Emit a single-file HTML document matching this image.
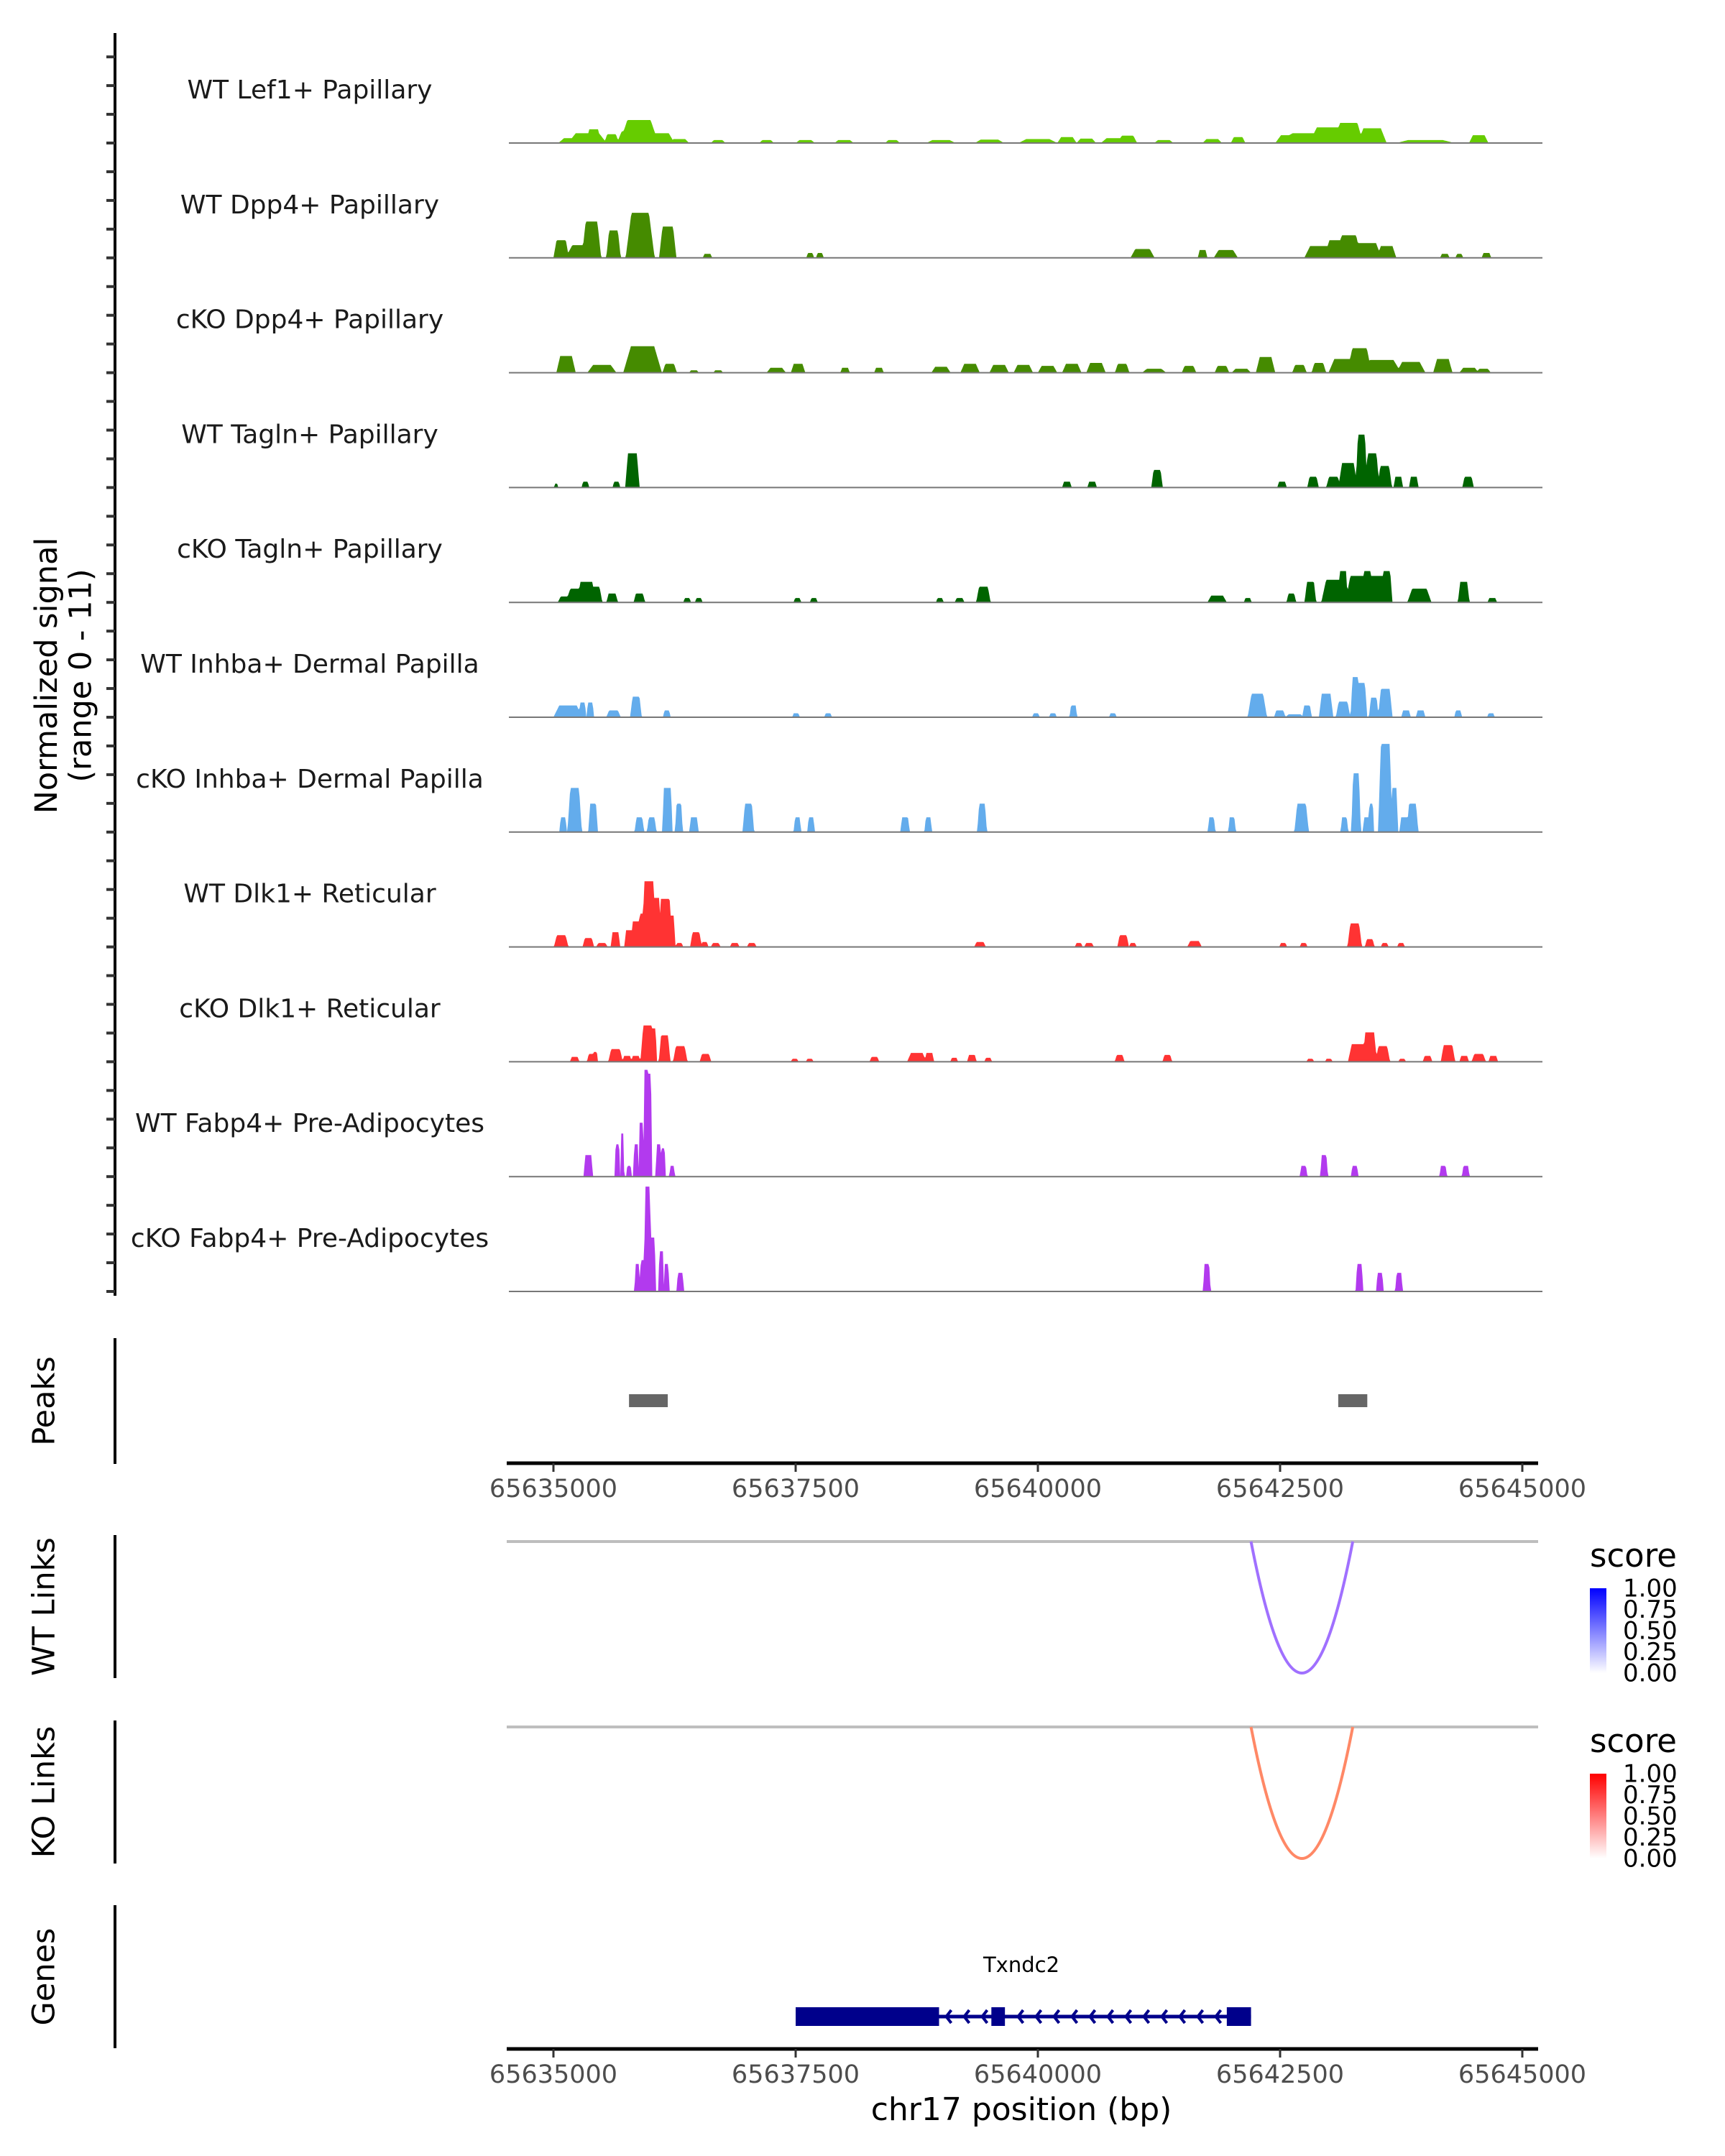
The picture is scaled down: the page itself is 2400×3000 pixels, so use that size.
<!DOCTYPE html>
<html><head><meta charset="utf-8">
<style>
html,body{margin:0;padding:0;background:#fff;}
svg{display:block;font-family:"DejaVu Sans","Liberation Sans",sans-serif;}
</style></head>
<body>
<svg id="chart" width="2400" height="3000" viewBox="0 0 2400 3000" xmlns="http://www.w3.org/2000/svg">
<rect x="0" y="0" width="2400" height="3000" fill="#fff"/>
<g id="tracks"></g>
<g id="left"></g>
<g id="bottom"></g>
</svg>
<script>
// ---------- data ----------
const regionStart = 65635000;
const axisTicks = [65635000, 65637500, 65640000, 65642500, 65645000];
const trackNames = ["WT Lef1+ Papillary","WT Dpp4+ Papillary","cKO Dpp4+ Papillary","WT Tagln+ Papillary","cKO Tagln+ Papillary","WT Inhba+ Dermal Papilla","cKO Inhba+ Dermal Papilla","WT Dlk1+ Reticular","cKO Dlk1+ Reticular","WT Fabp4+ Pre-Adipocytes","cKO Fabp4+ Pre-Adipocytes"];
const trackColors = ["#66cc00","#458b00","#458b00","#006400","#006400","#63acec","#63acec","#ff3333","#ff3333","#b23aee","#b23aee"];
// peaks per track: [offset from regionStart (bp), width (bp), signal]
const lef1WT = [[200,300,0.5],[350,400,1.0],[415,150,1.4],[600,150,0.9],[780,250,1.2],[883,400,2.35],[1100,300,1.0],[1300,200,0.4],[1700,150,0.3],[2200,150,0.3],[2600,200,0.3],[3000,200,0.3],[3500,150,0.3],[4000,300,0.3],[4500,300,0.35],[5000,400,0.4],[5300,200,0.6],[5500,200,0.45],[5800,300,0.5],[5925,200,0.75],[6300,200,0.3],[6800,200,0.4],[7067,150,0.6],[7600,300,0.8],[7900,900,1.0],[8000,400,1.6],[8208,300,2.05],[8450,300,1.5],[9000,600,0.3],[9550,200,0.8]];
const dpp4WT = [[80,160,1.8],[393,200,3.7],[300,350,1.3],[620,150,2.8],[895,300,4.6],[1180,180,3.2],[1590,100,0.4],[2650,80,0.5],[2750,80,0.5],[6080,250,0.9],[6700,100,0.8],[6940,250,0.8],[7900,300,1.2],[8100,300,1.8],[8210,250,2.3],[8400,300,1.5],[8600,200,1.2],[9200,100,0.4],[9350,80,0.4],[9630,100,0.5]];
const dpp4KO = [[130,200,1.7],[500,300,0.8],[920,400,2.7],[1200,150,0.9],[1450,100,0.25],[1700,100,0.25],[2300,200,0.5],[2525,150,0.9],[3010,100,0.5],[3360,100,0.5],[4000,200,0.6],[4300,200,0.9],[4600,200,0.8],[4850,200,0.8],[5100,200,0.7],[5350,200,0.9],[5600,200,1.0],[5870,150,0.9],[6200,250,0.4],[6560,150,0.7],[6900,150,0.7],[7100,200,0.4],[7350,200,1.6],[7700,150,0.8],[7900,150,1.0],[8150,300,1.4],[8320,250,2.5],[8550,400,1.3],[8850,300,1.1],[9180,200,1.4],[9450,200,0.5],[9600,150,0.4]];
const taglnWT = [[27,40,0.4],[330,80,0.6],[650,80,0.6],[815,150,3.5],[5300,100,0.6],[5560,100,0.6],[6230,120,1.8],[7520,100,0.6],[7840,120,1.1],[8050,150,1.1],[8200,200,2.5],[8340,120,5.4],[8450,150,3.5],[8580,150,2.2],[8720,100,1.1],[8880,100,1.1],[9440,120,1.1]];
const taglnKO = [[120,150,0.6],[250,250,1.4],[340,200,2.1],[430,150,1.6],[606,120,0.9],[887,120,0.9],[1380,80,0.45],[1500,80,0.45],[2518,80,0.45],[2687,80,0.45],[3988,80,0.45],[4192,100,0.45],[4438,150,1.6],[6850,200,0.7],[7166,80,0.45],[7616,100,0.9],[7813,120,2.1],[8050,250,2.3],[8150,100,3.2],[8300,250,2.7],[8400,100,3.2],[8500,200,2.7],[8600,120,3.2],[8938,250,1.4],[9395,120,2.1],[9690,100,0.45]];
const inhbaWT = [[150,300,1.2],[300,80,1.5],[380,80,1.5],[620,150,0.7],[852,120,2.1],[1170,80,0.7],[2504,80,0.4],[2835,80,0.4],[4980,80,0.4],[5155,80,0.4],[5366,80,1.2],[5774,80,0.4],[7265,200,2.4],[7497,120,0.7],[7650,200,0.3],[7778,100,1.2],[7975,150,2.4],[8150,150,1.6],[8277,100,4.1],[8340,120,3.5],[8467,100,2.0],[8586,150,2.9],[8800,100,0.7],[8950,100,0.7],[9338,80,0.7],[9676,80,0.4]];
const inhbaKO = [[100,80,1.5],[219,150,4.5],[409,100,2.9],[887,100,1.5],[1014,100,1.5],[1155,60,4.5],[1197,60,4.5],[1295,80,2.9],[1450,100,1.5],[2012,120,2.9],[2518,80,1.5],[2659,80,1.5],[3629,100,1.5],[3868,80,1.5],[4424,100,2.9],[6793,80,1.5],[7004,80,1.5],[7722,150,2.9],[8164,80,1.5],[8284,100,6.0],[8400,100,1.5],[8440,60,2.9],[8586,150,9.0],[8678,80,4.5],[8867,120,2.9],[8780,100,1.5]];
const dlk1WT = [[80,150,1.2],[360,120,0.9],[500,120,0.4],[640,100,1.5],[780,100,1.7],[850,100,2.6],[922,100,3.4],[985,150,6.7],[1063,100,5.0],[1154,150,4.9],[1211,100,3.2],[1300,80,0.4],[1471,120,1.5],[1560,80,0.5],[1675,100,0.4],[1871,100,0.4],[2047,100,0.4],[4403,120,0.5],[5422,80,0.4],[5528,100,0.4],[5880,120,1.2],[5980,80,0.4],[6617,150,0.6],[7532,80,0.4],[7743,80,0.4],[8270,150,2.4],[8425,100,0.8],[8580,80,0.4],[8748,80,0.4]];
const dlk1KO = [[219,100,0.5],[395,100,0.8],[430,60,1.0],[641,150,1.3],[760,100,0.6],[850,100,0.6],[972,150,3.7],[1030,80,3.4],[1147,120,2.7],[1309,150,1.6],[1569,120,0.8],[2490,80,0.3],[2645,80,0.3],[3313,100,0.5],[3750,200,0.9],[3880,100,0.9],[4136,80,0.4],[4319,100,0.7],[4487,80,0.4],[5844,100,0.7],[6336,100,0.7],[7812,80,0.3],[8003,80,0.3],[8300,200,1.8],[8425,150,3.0],[8560,150,1.6],[8760,80,0.3],[9022,100,0.6],[9233,150,1.7],[9400,100,0.6],[9550,150,0.8],[9700,100,0.6]];
const fabp4WT = [[360,100,2.2],[660,60,3.3],[711,40,4.4],[780,60,1.1],[852,60,3.3],[908,60,5.5],[958,60,10.9],[993,50,10.5],[1084,60,3.3],[1130,60,2.9],[1225,60,1.1],[7743,80,1.1],[7954,80,2.2],[8270,80,1.1],[9184,80,1.1],[9416,80,1.1]];
const fabp4KO = [[866,60,2.8],[920,60,3.2],[972,80,10.7],[1028,60,5.5],[1112,60,4.1],[1168,60,2.8],[1309,80,1.9],[6744,80,2.8],[8319,80,2.8],[8530,80,1.9],[8727,80,1.9]];
const trackPeaks = [lef1WT,dpp4WT,dpp4KO,taglnWT,taglnKO,inhbaWT,inhbaKO,dlk1WT,dlk1KO,fabp4WT,fabp4KO];
const peakRegions = [[65635780,65636180],[65643100,65643400]];
const linkStarts = [65642200];
const linkEnds = [65643250];
const wtScores = [0.45];
const koScores = [0.5];
const legendTicks = ["1.00","0.75","0.50","0.25","0.00"];
const geneName = "Txndc2";
const geneStart = 65637500, geneEnd = 65642200;
const exons = [[65637500,65638980],[65639520,65639660],[65641950,65642200]];

// ---------- scales ----------
const NS="http://www.w3.org/2000/svg";
const X0=770, PXPERBP=337/2500;
function xs(bp){return X0+(bp-regionStart)*PXPERBP;}
const firstBase=199, trackGap=159.8, unitPx=150/11;
function ys(v,base){return base - v*unitPx;}
function mk(tag,attrs,parent){const e=document.createElementNS(NS,tag);for(const k in attrs)e.setAttribute(k,attrs[k]);parent.appendChild(e);return e;}

const tracksG=document.getElementById('tracks');
const leftG=document.getElementById('left');
const botG=document.getElementById('bottom');
const XL=708, XR=2146;

// ---------- coverage tracks ----------
trackPeaks.forEach((peaks,i)=>{
  const base=firstBase+i*trackGap;
  const g=mk('g',{},tracksG);
  
  
  const step=10, n=Math.round(10200/step);
  let d='M'+xs(regionStart-450)+','+base;
  for(let k=0;k<=n;k++){
    const off=-450+k*step;
    let v=0;
    peaks.forEach(p=>{
      const dist=Math.abs(off-p[0]), hw=p[1]/2;
      let s=0;
      if(dist<=hw*0.6) s=1; else if(dist<hw) s=1-(dist-hw*0.6)/(hw*0.4);
      v=Math.max(v,p[2]*s);
    });
    d+=' L'+xs(regionStart+off).toFixed(1)+','+ys(v,base).toFixed(1);
  }
  d+=' L'+xs(regionStart+9750)+','+base+' Z';
  const path=mk('path',{d:d,fill:trackColors[i],stroke:'none'},g);
  
  
  const bl=mk('line',{x1:XL,x2:XR,y1:base,y2:base,stroke:'#777','stroke-width':2},g);
  
  
  const t=mk('text',{x:431,y:base-72,'font-size':36,fill:'#1a1a1a','text-anchor':'middle','dominant-baseline':'middle'},g);
  t.textContent=trackNames[i];
  
  
});

// ---------- left axis for tracks ----------
const la=mk('line',{x1:160,x2:160,y1:46,y2:1803,stroke:'#000','stroke-width':4},leftG);


for(let k=0;k<=44;k++){
  const y=firstBase-3*trackGap/4+k*trackGap/4;
  if(y<60||y>1800) continue;
  const tk=mk('line',{x1:148,x2:160,y1:y,y2:y,stroke:'#333','stroke-width':4},leftG);
  
  
}
const yt=mk('text',{transform:'translate(64,940) rotate(-90)','font-size':43,'text-anchor':'middle',fill:'#000'},leftG);


const ts1=mk('tspan',{x:0,dy:'0.35em'},yt); ts1.textContent='Normalized signal';
const ts2=mk('tspan',{x:0,dy:'1.1em'},yt); ts2.textContent='(range 0 - 11)';

function panelLabel(txt,y1,y2,name){
  const l=mk('line',{x1:160,x2:160,y1:y1,y2:y2,stroke:'#000','stroke-width':4},leftG);
  
  
  const t=mk('text',{transform:'translate(64,'+((y1+y2)/2)+') rotate(-90)','font-size':43,'text-anchor':'middle','dominant-baseline':'middle',fill:'#000'},leftG);
  t.textContent=txt;
  
  
}
panelLabel('Peaks',1862,2037,'peaks');
panelLabel('WT Links',2136,2335,'wt-links');
panelLabel('KO Links',2394,2593,'ko-links');
panelLabel('Genes',2651,2850,'genes');

// ---------- peaks ----------
peakRegions.forEach(p=>{
  const r=mk('rect',{x:xs(p[0]),y:1940,width:xs(p[1])-xs(p[0]),height:18,fill:'#666'},botG);
  
  
});

function xAxis(y,name){
  const g=mk('g',{},botG);
  
  
  mk('line',{x1:705,x2:2140,y1:y,y2:y,stroke:'#000','stroke-width':5},g);
  axisTicks.forEach(v=>{
    const tk=mk('line',{x1:xs(v),x2:xs(v),y1:y,y2:y+12,stroke:'#333','stroke-width':3},g);
    
    
    const t=mk('text',{x:xs(v),y:y+47,'font-size':35,fill:'#4d4d4d','text-anchor':'middle'},g);
    t.textContent=v;
    
    
  });
}
xAxis(2036,'peaks-x-axis');
xAxis(2851,'genes-x-axis');
const xt=mk('text',{x:1421,y:2950,'font-size':44,fill:'#000','text-anchor':'middle'},botG);
xt.textContent='chr17 position (bp)';



// ---------- links ----------
function linkPanel(top,scores,color,gradId,topColor,name){
  const g=mk('g',{},botG);
  
  
  mk('line',{x1:705,x2:2140,y1:top,y2:top,stroke:'#bebebe','stroke-width':4},g);
  linkStarts.forEach((s,i)=>{
    const a=xs(s), b=xs(linkEnds[i]), depth=183;
    const p=mk('path',{d:'M'+a+','+top+' Q'+((a+b)/2)+','+(top+2*depth)+' '+b+','+top,fill:'none',stroke:color,'stroke-width':4},g);
    
    
  });
  const defs=mk('defs',{},g);
  const lg=mk('linearGradient',{id:gradId,x1:0,y1:0,x2:0,y2:1},defs);
  mk('stop',{offset:'0','stop-color':topColor},lg);
  mk('stop',{offset:'1','stop-color':'#ffffff'},lg);
  const lt=mk('text',{x:2212,y:top+35,'font-size':45,fill:'#000'},g);
  lt.textContent='score';
  
  
  const bar=mk('rect',{x:2212,y:top+65,width:23,height:118,fill:'url(#'+gradId+')'},g);
  
  
  legendTicks.forEach((lab,k)=>{
    const y=top+67+k*29.5;
    const t=mk('text',{x:2258,y:y,'font-size':34,fill:'#000','dominant-baseline':'middle'},g);
    t.textContent=lab;
    
    
  });
}
linkPanel(2145,wtScores,'#a070ff','gb','#0000ff','wt-links-panel');
linkPanel(2403,koScores,'#ff8866','gr','#ff0000','ko-links-panel');

// ---------- gene ----------
const gg=mk('g',{},botG);


mk('line',{x1:xs(geneStart),x2:xs(geneEnd),y1:2806,y2:2806,stroke:'#00008b','stroke-width':5},gg);
exons.forEach(e=>{
  const r=mk('rect',{x:xs(e[0]),y:2793,width:xs(e[1])-xs(e[0]),height:26,fill:'#00008b'},gg);
  
  
});
for(let x=xs(exons[0][1])+10;x<xs(exons[2][0])-10;x+=25){
  if(x>xs(exons[1][0])-8&&x<xs(exons[1][1])+8) continue;
  mk('polyline',{points:(x+7)+',2797 '+x+',2806 '+(x+7)+',2815',fill:'none',stroke:'#00008b','stroke-width':4},gg);
}
const gl=mk('text',{x:1421,y:2744,'font-size':29,fill:'#000','text-anchor':'middle'},gg);
gl.textContent=geneName;


</script>
</body></html>
